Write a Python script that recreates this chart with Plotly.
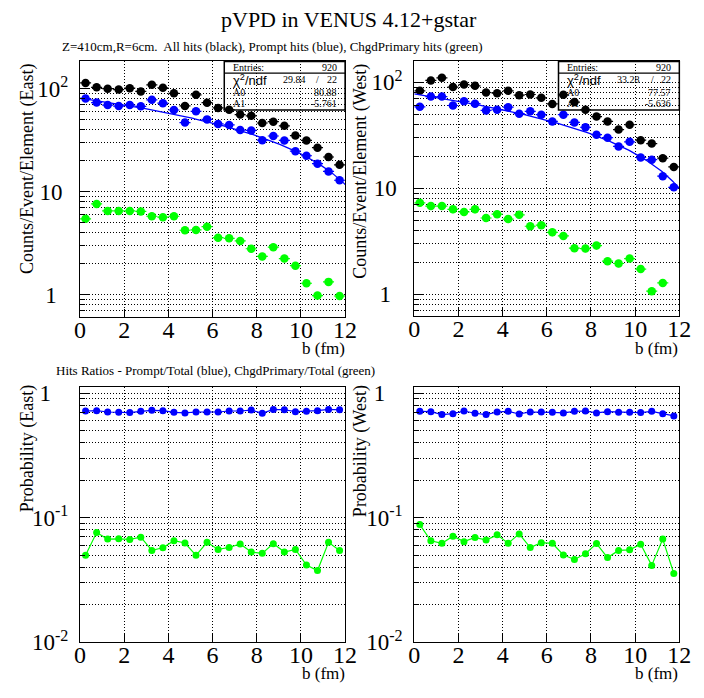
import numpy as np
import plotly.graph_objects as go

# ---------------- data ----------------
b_fm = [0.25, 0.75, 1.25, 1.75, 2.25, 2.75, 3.25, 3.75, 4.25, 4.75, 5.25, 5.75,
        6.25, 6.75, 7.25, 7.75, 8.25, 8.75, 9.25, 9.75, 10.25, 10.75, 11.25, 11.75]

east_all = [113.6, 103, 100, 98, 101, 94, 109, 102, 90, 68, 87, 73,
            65, 62.5, 56, 54.5, 46.4, 47.8, 43.5, 35, 31.4, 26.7, 21.7, 18.2]
east_prompt = [80, 73.3, 69.2, 67.7, 69.2, 67.3, 77.8, 72.3, 62, 46.8, 60.3, 50.3,
               45.4, 44.4, 39.6, 39.3, 31.6, 34.7, 31.4, 24.7, 22.3, 18.7, 15.7, 12.9]
east_chgd = [5.45, 7.6, 6.49, 6.49, 6.5, 6.43, 5.77, 5.65, 5.77, 4.22, 4.25, 4.57,
             3.57, 3.52, 3.32, 2.79, 2.35, 2.89, 2.24, 1.91, 1.29, 0.98, 1.33, 0.97]

west_all = [83, 104, 110, 90, 95, 92.5, 80, 78.7, 83, 75.5, 76.6, 71.3,
            62.4, 76, 65, 55, 47.4, 42.7, 35.8, 39.7, 28.4, 26.4, 19.2, 15.9]
west_prompt = [58.6, 73.3, 73.3, 60.3, 66, 62.8, 54.2, 55, 58.2, 50.5, 53.1, 49.4,
               42.7, 49.4, 41.8, 37.6, 32, 30, 24.8, 27.4, 19.5, 18.6, 13, 10.2]
west_chgd = [7.28, 6.79, 6.79, 6.33, 5.98, 6.33, 5.24, 5.69, 5.12, 5.61, 4.38, 4.48,
             3.84, 3.55, 2.72, 2.70, 2.88, 2.05, 1.95, 2.17, 1.73, 1.07, 1.28, 0.57]

east_ratio_prompt = [0.719, 0.723, 0.706, 0.702, 0.698, 0.715, 0.728, 0.723, 0.702, 0.694, 0.706, 0.706,
                     0.706, 0.719, 0.719, 0.732, 0.690, 0.741, 0.736, 0.711, 0.715, 0.723, 0.741, 0.736]
east_ratio_chgd = [0.0499, 0.0759, 0.0673, 0.0677, 0.0669, 0.0698, 0.0546, 0.0573, 0.0653, 0.0626, 0.0499, 0.0634,
                   0.0556, 0.0576, 0.0615, 0.0530, 0.0517, 0.0619, 0.0530, 0.0556, 0.0417, 0.0376, 0.0634, 0.0546]
west_ratio_prompt = [0.715, 0.711, 0.673, 0.685, 0.719, 0.690, 0.673, 0.706, 0.715, 0.681, 0.706, 0.706,
                     0.702, 0.694, 0.715, 0.719, 0.694, 0.711, 0.702, 0.702, 0.698, 0.715, 0.685, 0.657]
west_ratio_chgd = [0.0881, 0.0653, 0.0623, 0.0711, 0.0642, 0.0694, 0.0661, 0.0728, 0.0623, 0.0741, 0.0576, 0.0630,
                   0.0623, 0.0502, 0.0462, 0.0514, 0.0620, 0.0478, 0.0546, 0.0552, 0.0611, 0.0414, 0.0673, 0.0356]

# fit pol1 parameters (from stats boxes)
east_fit = {"A0": 80.88, "A1": -5.761, "chi2": "29.84", "ndf": "22", "entries": "920"}
west_fit = {"A0": 77.57, "A1": -5.636, "chi2": "33.28", "ndf": "22", "entries": "920"}

x_ticks = [0, 2, 4, 6, 8, 10, 12]

# ---------------- styling ----------------
W, H = 704, 698
SERIF = "Liberation Serif"
SANS = "Liberation Sans"
BLACK, BLUE, GREEN = "#000000", "#0000ff", "#00ff00"
GRID_DASH = "1px,2px"


def PX(x):
    return x / W


def PY(y):
    return 1 - y / H


fig = go.Figure()


def add_hist(xa, ya, vals, color, pct):
    fig.add_trace(go.Scatter(
        x=b_fm, y=vals, mode="markers", xaxis=xa, yaxis=ya,
        marker=dict(color=color, size=8.5, symbol="circle"),
        error_y=dict(type="percent", value=pct, color=color, thickness=1.2, width=0),
        error_x=dict(type="constant", value=0.25, color=color, thickness=1.2, width=0),
        showlegend=False, cliponaxis=True))


def add_fit(xa, ya, p):
    xs = np.linspace(0, 12, 200)
    fig.add_trace(go.Scatter(x=xs, y=p["A0"] + p["A1"] * xs, mode="lines",
                             xaxis=xa, yaxis=ya, line=dict(color=BLUE, width=1.3),
                             showlegend=False, hoverinfo="skip"))


def add_ratio(xa, ya, vals, color):
    fig.add_trace(go.Scatter(x=b_fm, y=vals, mode="lines+markers", xaxis=xa, yaxis=ya,
                             marker=dict(color=color, size=7),
                             line=dict(color=color, width=1.2), showlegend=False))


# top-left East
add_hist("x", "y", east_all, BLACK, 3)
add_hist("x", "y", east_prompt, BLUE, 4)
add_hist("x", "y", east_chgd, GREEN, 8)
add_fit("x", "y", east_fit)
# top-right West
add_hist("x2", "y2", west_all, BLACK, 3)
add_hist("x2", "y2", west_prompt, BLUE, 4)
add_hist("x2", "y2", west_chgd, GREEN, 8)
add_fit("x2", "y2", west_fit)
# ratios
add_ratio("x3", "y3", east_ratio_prompt, BLUE)
add_ratio("x3", "y3", east_ratio_chgd, GREEN)
add_ratio("x4", "y4", west_ratio_prompt, BLUE)
add_ratio("x4", "y4", west_ratio_chgd, GREEN)

grid_common = dict(showgrid=True, griddash=GRID_DASH, gridcolor="#000000", gridwidth=1)


def xaxis_cfg(x0, x1, anchor):
    return dict(domain=[PX(x0), PX(x1)], anchor=anchor, range=[0, 12],
                tickmode="array", tickvals=x_ticks, ticktext=[str(t) for t in x_ticks],
                ticks="inside", ticklen=8, tickcolor="black",
                ticklabelstandoff=-9,
                showline=True, linecolor="black", linewidth=1.2, mirror=True,
                zeroline=False, tickfont=dict(family=SERIF, size=24, color="black"),
                **grid_common)


NB = "&nbsp;"
top_major = [1, 10, 100]
top_major_text = ["1" + NB * 2, "10" + NB, "10<sup>2</sup>"]
top_minor = [0.7, 0.8, 0.9, 2, 3, 4, 5, 6, 7, 8, 9, 20, 30, 40, 50, 60, 70, 80, 90]
bot_major = [0.01, 0.1, 1]
bot_major_text = ["10<sup>-2</sup>", "10<sup>-1</sup>", "1" + NB * 3]
bot_minor = [0.02, 0.03, 0.04, 0.05, 0.06, 0.07, 0.08, 0.09, 0.2, 0.3, 0.4, 0.5, 0.6, 0.7, 0.8, 0.9]


def yaxis_cfg(y0, y1, anchor, rng, major, major_text, minor):
    return dict(domain=[PY(y1), PY(y0)], anchor=anchor, type="log", range=rng,
                tickmode="array", tickvals=major, ticktext=major_text,
                ticks="inside", ticklen=9, tickcolor="black",
                ticklabelstandoff=6,
                minor=dict(tickmode="array", tickvals=minor, ticks="inside", ticklen=5,
                           tickcolor="black", showgrid=True, griddash=GRID_DASH,
                           gridcolor="#000000", gridwidth=1),
                showline=True, linecolor="black", linewidth=1.2, mirror=True,
                zeroline=False, tickfont=dict(family=SERIF, size=23, color="black"),
                **grid_common)


fig.update_layout(
    width=W, height=H, margin=dict(l=0, r=0, t=0, b=0),
    paper_bgcolor="white", plot_bgcolor="white",
    xaxis=xaxis_cfg(76, 348, "y"),
    yaxis=yaxis_cfg(57, 320, "x", [-0.22, 2.264], top_major, top_major_text, top_minor),
    xaxis2=xaxis_cfg(419, 691, "y2"),
    yaxis2=yaxis_cfg(57, 319, "x2", [-0.208, 2.196], top_major, top_major_text, top_minor),
    xaxis3=xaxis_cfg(76, 348, "y3"),
    yaxis3=yaxis_cfg(392, 654, "x3", [-2, 0.047], bot_major, bot_major_text, bot_minor),
    xaxis4=xaxis_cfg(419, 691, "y4"),
    yaxis4=yaxis_cfg(392, 654, "x4", [-2, 0.047], bot_major, bot_major_text, bot_minor),
    font=dict(family=SERIF, color="black"),
)

ann = []


def text(x, y, s, size, xanchor="left", yanchor="middle", angle=0, family=SERIF):
    ann.append(dict(x=PX(x), y=PY(y), xref="paper", yref="paper", text=s, showarrow=False,
                    xanchor=xanchor, yanchor=yanchor, textangle=angle,
                    font=dict(family=family, size=size, color="black")))


text(352, 14, "pVPD in VENUS 4.12+gstar", 22, xanchor="center")
text(55, 42, "Z=410cm,R=6cm.  All hits (black), Prompt hits (blue), ChgdPrimary hits (green)", 13)
text(49, 375, "Hits Ratios - Prompt/Total (blue), ChgdPrimary/Total (green)", 13)

# axis titles
text(22, 57, "Counts/Event/Element (East)", 18, xanchor="center", yanchor="top", angle=-90)
text(364, 57, "Counts/Event/Element (West)", 18, xanchor="center", yanchor="top", angle=-90)
text(23, 388, "Probability (East)", 18, xanchor="center", yanchor="top", angle=-90)
text(364, 388, "Probability (West)", 18, xanchor="center", yanchor="top", angle=-90)
for xr, yb in [(350, 352), (692, 352), (350, 686), (692, 686)]:
    text(xr, yb, "b (fm)", 17, xanchor="right")

# stats boxes
shapes = []
for (bx0, bx1), p in [((224, 348), east_fit), ((567, 691), west_fit)]:
    shapes.append(dict(type="rect", xref="paper", yref="paper", x0=PX(bx0), x1=PX(bx1),
                       y0=PY(107), y1=PY(57), line=dict(color="black", width=1.5)))
    shapes.append(dict(type="line", xref="paper", yref="paper", x0=PX(bx0), x1=PX(bx1),
                       y0=PY(69), y1=PY(69), line=dict(color="black", width=1.2)))
    lx = bx0 + 7
    rx = bx1 - 6
    text(lx, 63.5, "Entries:", 10)
    text(rx, 63.5, p["entries"], 10, xanchor="right")
    text(lx, 76, "χ<sup>2</sup>/ndf", 13, family=SANS)
    text(rx - 32, 76, p["chi2"], 10, xanchor="right")
    text(rx - 22, 76, "/", 10, xanchor="center")
    text(rx, 76, p["ndf"], 10, xanchor="right")
    text(lx, 88.5, "A0", 10)
    text(rx, 88.5, "%.2f" % p["A0"], 10, xanchor="right")
    text(lx, 100, "A1", 10)
    text(rx, 100, "%.4g" % p["A1"], 10, xanchor="right")

fig.update_layout(annotations=ann, shapes=shapes)
fig.write_html("out.html", config={"displayModeBar": False},
               post_script="document.body.style.margin='0px';document.body.style.overflow='hidden';")
